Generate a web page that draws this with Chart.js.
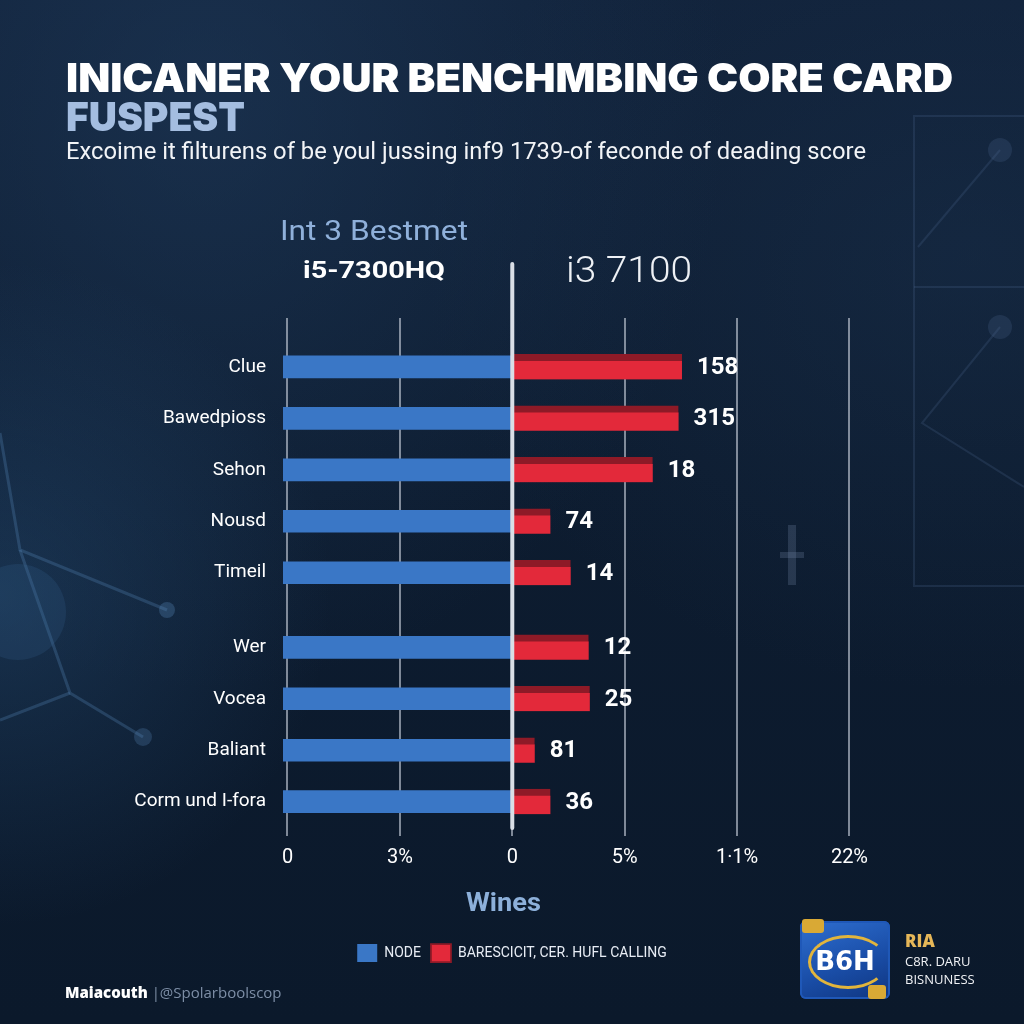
<!DOCTYPE html>
<html><head><meta charset="utf-8">
<script src="https://cdn.jsdelivr.net/npm/chart.js@4.4.0/dist/chart.umd.min.js"></script>
<style>
html,body{margin:0;padding:0;}
body{width:1024px;height:1024px;overflow:hidden;position:relative;font-family:Roboto,"Open Sans",sans-serif;
background:
 radial-gradient(circle at 0% 58%, rgba(45,90,135,0.35), rgba(0,0,0,0) 28%),
 radial-gradient(ellipse at 20% 10%, rgba(35,65,100,0.45), rgba(0,0,0,0) 45%),
 radial-gradient(ellipse at 95% 25%, rgba(30,55,85,0.35), rgba(0,0,0,0) 40%),
 linear-gradient(180deg,#11223a 0%,#0d1c30 45%,#0b192b 100%);}
#deco{position:absolute;left:0;top:0;}
#c{position:absolute;left:0;top:0;}
.t{position:absolute;white-space:nowrap;line-height:1;transform-origin:0 50%;}
#title{left:66px;top:58px;font-family:Inter,sans-serif;font-weight:900;font-size:40px;color:#fff;letter-spacing:0px;}
#title2{left:66px;top:97px;font-family:Inter,sans-serif;font-weight:900;font-size:40px;color:#a4bde0;}
#sub{left:66px;top:139px;font-family:Roboto,sans-serif;font-size:24px;color:#f2f4f7;}
#h1{left:280px;top:217px;font-family:Roboto,sans-serif;font-size:28px;color:#8fb0da;}
#h2{left:303px;top:259px;font-family:Roboto,sans-serif;font-weight:700;font-size:23px;color:#fff;}
#h3{left:566px;top:252px;font-family:Roboto,sans-serif;font-weight:300;font-size:36px;color:#eef1f5;}
#wines{left:466px;top:890px;font-family:Roboto,sans-serif;font-weight:700;font-size:25px;color:#8db0da;}
#wm{left:65px;top:985px;font-size:15px;font-family:"Open Sans",sans-serif;}
#wm b{color:#fff;font-weight:800;}
#wm span{color:#7d8ea6;}
#logo{position:absolute;left:800px;top:921px;width:90px;height:78px;border-radius:6px;
 background:linear-gradient(160deg,#2f6fd0 0%,#1a4ea8 55%,#0f3580 100%);box-shadow:0 0 0 2px #1f58b8 inset;}
#logo .ring{position:absolute;left:8px;top:14px;width:74px;height:48px;border-radius:50%;border:3px solid #e2b53c;border-right-color:transparent;}
#logo .txt{position:absolute;left:0;top:25px;width:90px;text-align:center;font-family:"DejaVu Sans",sans-serif;font-weight:700;font-size:26px;color:#fff;}
#logo .g1{position:absolute;left:2px;top:-2px;width:22px;height:14px;background:#d9a935;border-radius:3px;}
#logo .g2{position:absolute;left:68px;top:64px;width:18px;height:14px;background:#d9a935;border-radius:3px;}
#ria{left:905px;top:932px;font-family:"Open Sans",sans-serif;font-weight:800;font-size:17px;color:#e6b758;}
#ria2{left:905px;top:952px;font-family:"Open Sans",sans-serif;font-size:13px;color:#f0f2f5;line-height:18px;}
</style></head>
<body>
<svg id="deco" width="1024" height="1024">
 <g stroke="rgba(90,140,190,0.28)" stroke-width="3" fill="none">
  <polyline points="0,433 20,550 167,610"/>
  <polyline points="20,550 70,693 143,737"/>
  <line x1="70" y1="693" x2="0" y2="720"/>
 </g>
 <circle cx="18" cy="612" r="48" fill="rgba(60,110,160,0.18)"/>
 <circle cx="167" cy="610" r="8" fill="rgba(90,140,190,0.3)"/>
 <circle cx="143" cy="737" r="9" fill="rgba(90,140,190,0.25)"/>
 <g stroke="rgba(80,110,150,0.22)" stroke-width="2" fill="none">
  <rect x="914" y="116" width="120" height="470"/>
  <line x1="914" y1="287" x2="1024" y2="287"/>
  <polyline points="1000,150 918,247"/>
  <polyline points="1000,327 922,423 1024,487"/>
 </g>
 <circle cx="1000" cy="150" r="12" fill="rgba(80,110,150,0.22)"/>
 <circle cx="1000" cy="327" r="12" fill="rgba(80,110,150,0.22)"/>
 <g fill="rgba(120,140,170,0.25)">
  <rect x="788" y="525" width="8" height="60"/>
  <rect x="780" y="552" width="24" height="6"/>
 </g>
</svg>
<canvas id="c" width="1024" height="1024"></canvas>
<div class="t" id="title" data-w="887">INICANER YOUR BENCHMBING CORE CARD</div>
<div class="t" id="title2" data-w="179">FUSPEST</div>
<div class="t" id="sub" data-w="800">Excoime it filturens of be youl jussing inf9 1739-of feconde of deading score</div>
<div class="t" id="h1" data-w="188">Int 3 Bestmet</div>
<div class="t" id="h2" data-w="142">i5-7300HQ</div>
<div class="t" id="h3" data-w="126">i3 7100</div>
<div class="t" id="wines" data-w="75">Wines</div>
<div class="t" id="wm"><b>Maiacouth</b> <span>|@Spolarboolscop</span></div>
<div id="logo"><div class="g1"></div><div class="g2"></div><div class="ring"></div><div class="txt">B6H</div></div>
<div class="t" id="ria">RIA</div>
<div class="t" id="ria2">C8R. DARU<br>BISNUNESS</div>
<script>
// ---- data ----
const categories = ['Clue','Bawedpioss','Sehon','Nousd','Timeil','Wer','Vocea','Baliant','Corm und I-fora'];
const nodeValues = [-2.04,-2.04,-2.04,-2.04,-2.04,-2.04,-2.04,-2.04,-2.04];
const callingValues = [1.51,1.48,1.25,0.34,0.52,0.68,0.69,0.20,0.34];
const valueLabels = ['158','315','18','74','14','12','25','81','36'];
const tickValues = [-2,-1,0,1,2,3];
const tickLabels = ['0','3%','0','5%','1·1%','22%'];
const seriesNames = ['NODE','BARESCICIT, CER. HUFL CALLING'];

// layout helpers
const groupBreak = 5, groupGap = 0.45;
const rowPos = categories.map((c,i)=> i + (i>=groupBreak ? groupGap : 0));

// fit header texts to target widths
document.querySelectorAll('.t[data-w]').forEach(el=>{
  const w = el.getBoundingClientRect().width;
  const target = +el.dataset.w;
  if (w>0) el.style.transform = 'scaleX(' + (target/w) + ')';
});

const centerLine = {
  id:'centerLine',
  afterDatasetsDraw(chart){
    const ctx = chart.ctx, x = chart.scales.x.getPixelForValue(0);
    ctx.save();
    ctx.strokeStyle = '#d9dee6';
    ctx.lineWidth = 4;
    ctx.lineCap = 'round';
    ctx.beginPath();
    ctx.moveTo(x, 264);
    ctx.lineTo(x, chart.chartArea.bottom - 2);
    ctx.stroke();
    // value labels
    const meta = chart.getDatasetMeta(1);
    ctx.fillStyle = '#ffffff';
    ctx.font = '700 24px Roboto, sans-serif';
    ctx.textBaseline = 'middle';
    ctx.textAlign = 'left';
    meta.data.forEach((el,i)=>{
      ctx.fillText(valueLabels[i], el.x + 15, el.y + 1);
    });
    ctx.restore();
  }
};

new Chart(document.getElementById('c'), {
  type:'bar',
  data:{
    datasets:[
      {label:seriesNames[0], data:nodeValues.map((v,i)=>({x:v,y:rowPos[i]})),
       backgroundColor:'#3a77c6', barThickness:22, grouped:false, borderWidth:0},
      {label:seriesNames[1], data:callingValues.map((v,i)=>({x:v,y:rowPos[i]})),
       backgroundColor:'#e3293a', borderColor:'#8e1a27', borderWidth:{top:7,left:0,right:0,bottom:0},
       borderSkipped:false, barThickness:25, grouped:false}
    ]
  },
  options:{
    indexAxis:'y',
    responsive:false,
    animation:false,
    devicePixelRatio:1,
    layout:{padding:{left:0,right:0,top:318,bottom:52}},
    scales:{
      x:{type:'linear', min:-2.04, max:4.553,
        afterBuildTicks(s){ s.ticks = tickValues.map(v=>({value:v})); },
        ticks:{color:'#ffffff', font:{size:20, family:'Roboto'}, padding:10,
          callback:(v,i)=>tickLabels[i]},
        grid:{color:'rgba(205,212,224,0.6)', lineWidth:2, tickLength:6, drawOnChartArea:true},
        border:{display:false},
        afterFit(s){ s.height = 104; }
      },
      y:{type:'linear', reverse:true, min:-0.95, max:9.0, offset:false,
        afterBuildTicks(s){ s.ticks = rowPos.map(v=>({value:v})); },
        ticks:{color:'#ffffff', font:{size:19, family:'Roboto'}, padding:17,
          callback:(v,i)=>categories[i]},
        grid:{display:false, drawTicks:false, offset:false},
        border:{display:false},
        afterFit(s){ s.width = 283; }
      }
    },
    plugins:{
      legend:{position:'bottom', labels:{color:'#e8edf5', font:{size:14, family:'Roboto'}, boxWidth:20, boxHeight:18, padding:10}},
      tooltip:{enabled:false}
    }
  },
  plugins:[centerLine]
});
</script>
</body></html>
